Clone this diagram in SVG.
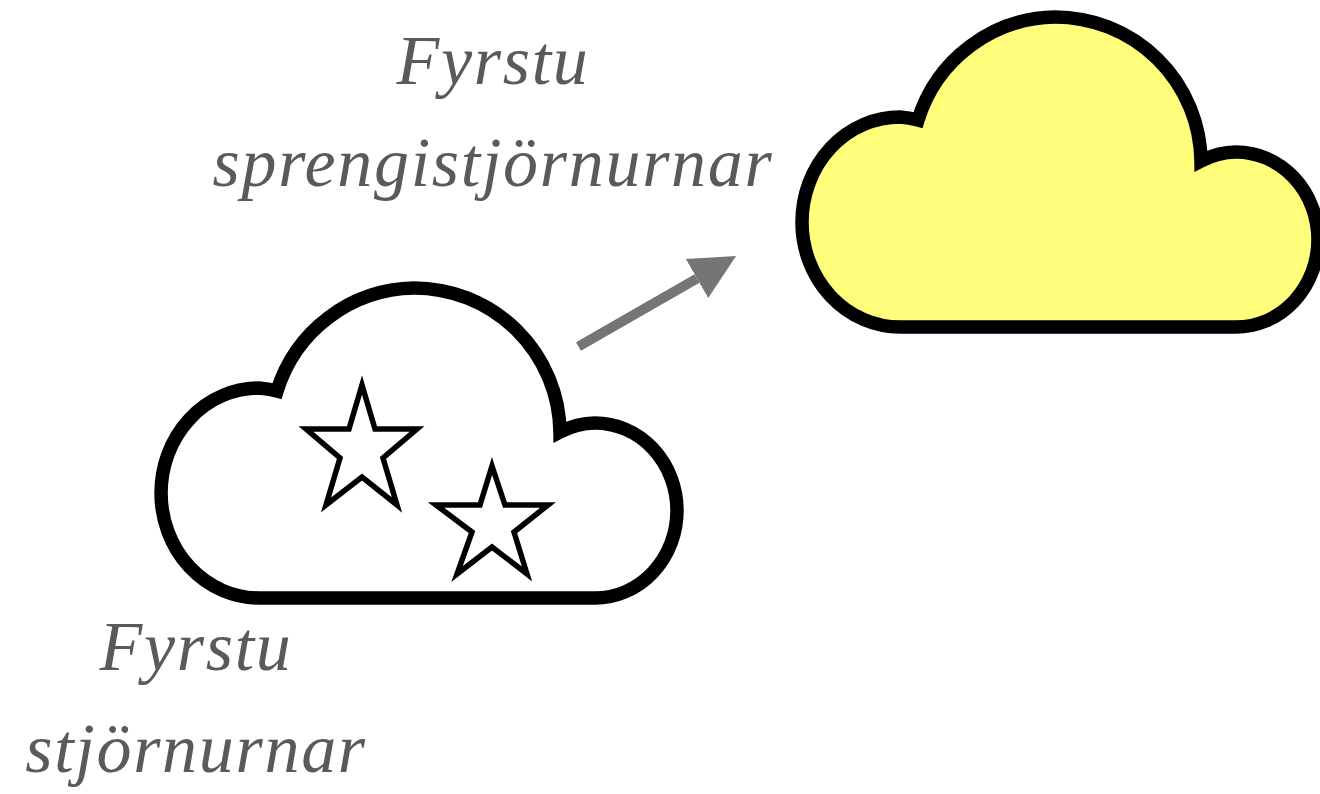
<svg xmlns="http://www.w3.org/2000/svg" width="1320" height="794" viewBox="0 0 1320 794">
<style>
.cloud{stroke:#000;stroke-width:13.5;stroke-linejoin:miter;stroke-miterlimit:10}
.star{fill:#fff;stroke:#000;stroke-width:5.5;stroke-miterlimit:10}
.label{font-family:"Liberation Serif",serif;font-style:italic;font-size:70px;fill:#5a5a5a;text-anchor:middle;letter-spacing:1.7px}
</style>
<defs><marker id="arrow" markerUnits="userSpaceOnUse" markerWidth="46" markerHeight="46" refX="0" refY="22.5" orient="auto"><path d="M0 0L45 22.5L0 45Z" fill="#747574"/></marker></defs>
<rect width="1320" height="794" fill="#fff"/>
<g id="labels">
<text class="label" x="493" y="84">Fyrstu</text>
<text class="label" x="493" y="186">sprengistjörnurnar</text>
<text class="label" x="196" y="670">Fyrstu</text>
<text class="label" x="196" y="772">stjörnurnar</text>
</g>
<g id="cloud-first-stars">
<path class="cloud" fill="#fff" d="M259 598H595A82 87.5 0 0 0 595 423A82 87.5 0 0 0 560 432A146 146 0 0 0 414 288A146 146 0 0 0 277 391A98 105 0 0 0 259 388A98 105 0 0 0 259 598Z"/>
<polygon class="star" points="362,385 375,429 417,429 383,458 397,505 362,477 326,505 340,458 306,429 349,429"/>
<polygon class="star" points="492,466 505,505 548,505 514,532 527,574 492,547 457,574 472,532 436,505 480,505"/>
</g>
<g id="cloud-first-supernovae">
<path class="cloud" fill="#fffd7a" d="M900 327H1236A82 87.5 0 0 0 1236 152A82 87.5 0 0 0 1201 161A146 146 0 0 0 1055 17A146 146 0 0 0 918 120A98 105 0 0 0 900 117A98 105 0 0 0 900 327Z"/>
</g>
<g id="connectors">
<line x1="578.5" y1="346.5" x2="697" y2="278.5" stroke="#747574" stroke-width="10" marker-end="url(#arrow)"/>
</g>
</svg>
